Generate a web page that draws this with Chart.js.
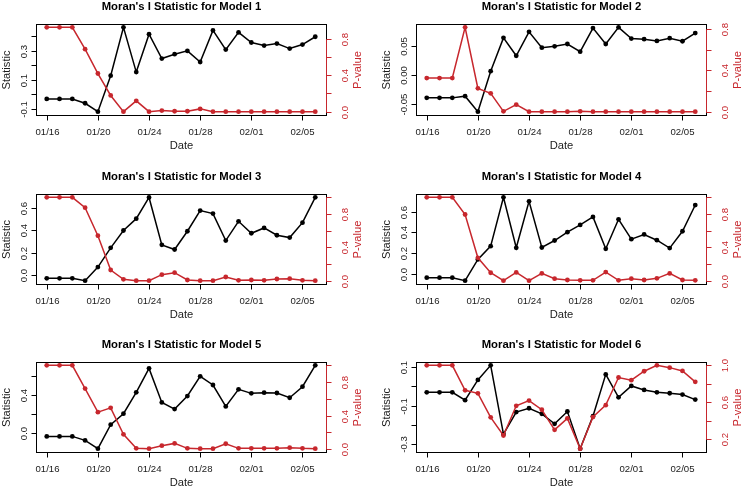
<!DOCTYPE html>
<html>
<head>
<meta charset="utf-8">
<script src="https://cdn.jsdelivr.net/npm/chart.js@4.4.0/dist/chart.umd.min.js"></script>
<style>
html, body { margin: 0; padding: 0; background: #fff; }
#wrap { position: relative; width: 742px; height: 489px; overflow: hidden; background: #fff; }
#wrap canvas { position: absolute; }
</style>
</head>
<body>
<div id="wrap"></div>
<script>
// dates on the x axis (one point per day)
const dates = ['01/16','01/17','01/18','01/19','01/20','01/21','01/22','01/23','01/24','01/25','01/26',
  '01/27','01/28','01/29','01/30','01/31','02/01','02/02','02/03','02/04','02/05','02/06'];
const dateTickLabels = ['01/16','01/20','01/24','01/28','02/01','02/05'];

// Moran's I statistic (black) and p-value (red) per model
const stat1 = [-0.033,-0.033,-0.033,-0.063,-0.121,0.128,0.463,0.153,0.416,0.247,0.277,
  0.300,0.223,0.442,0.309,0.428,0.358,0.337,0.351,0.316,0.344,0.398];
const pval1 = [0.922,0.922,0.922,0.683,0.417,0.177,0.0,0.118,0.0,0.011,0.004,
  0.004,0.030,0.0,0.0,0.0,0.0,0.0,0.0,0.0,0.0,0.0];

const stat2 = [-0.040,-0.040,-0.040,-0.037,-0.064,0.0065,0.0647,0.0335,0.0753,0.0476,0.050,
  0.054,0.0406,0.0818,0.054,0.083,0.0635,0.0624,0.0594,0.0641,0.0588,0.073];
const pval2 = [0.326,0.326,0.326,0.813,0.227,0.179,0.006,0.070,0.003,0.003,0.003,
  0.003,0.006,0.003,0.003,0.003,0.003,0.003,0.003,0.003,0.003,0.003];

const stat3 = [-0.033,-0.033,-0.033,-0.054,0.069,0.243,0.400,0.507,0.699,0.270,0.228,
  0.393,0.580,0.553,0.309,0.483,0.375,0.423,0.357,0.336,0.471,0.700];
const pval3 = [1.0,1.0,1.0,0.876,0.540,0.128,0.016,0.0,0.0,0.072,0.096,
  0.008,0.0,0.0,0.044,0.004,0.008,0.004,0.020,0.024,0.004,0.0];

const stat4 = [-0.035,-0.035,-0.035,-0.064,0.140,0.268,0.737,0.252,0.699,0.255,0.322,
  0.402,0.472,0.549,0.242,0.526,0.335,0.380,0.325,0.249,0.411,0.663];
const pval4 = [1.0,1.0,1.0,0.794,0.274,0.095,0.0,0.099,0.0,0.087,0.024,
  0.008,0.004,0.004,0.103,0.004,0.024,0.008,0.028,0.087,0.008,0.004];

const stat5 = [-0.032,-0.032,-0.032,-0.074,-0.161,0.091,0.207,0.432,0.684,0.326,0.256,
  0.393,0.600,0.509,0.284,0.463,0.421,0.428,0.425,0.375,0.491,0.716];
const pval5 = [1.0,1.0,1.0,0.722,0.440,0.492,0.175,0.008,0.004,0.040,0.067,
  0.008,0.004,0.004,0.063,0.008,0.008,0.008,0.008,0.016,0.008,0.004];

const stat6 = [-0.031,-0.031,-0.031,-0.072,0.033,0.109,-0.248,-0.134,-0.114,-0.143,-0.195,
  -0.131,-0.324,-0.155,0.062,-0.057,0.002,-0.019,-0.031,-0.036,-0.043,-0.069];
const pval6 = [1.0,1.0,1.0,0.729,0.696,0.436,0.239,0.561,0.618,0.518,0.300,
  0.425,0.096,0.439,0.568,0.868,0.839,0.936,1.0,0.975,0.939,0.821];

// axis ticks; an empty label is a tick R drew without text
const statTicks1 = [-0.1,0,0.1,0.2,0.3,0.4];
const statLabels1 = ['-0.1','','0.1','','0.3',''];
const statTicks2 = [-0.05,0,0.05];
const statLabels2 = ['-0.05','0.00','0.05'];
const statTicks3 = [0,0.2,0.4,0.6];
const statLabels3 = ['0.0','0.2','0.4','0.6'];
const statTicks5 = [0,0.2,0.4,0.6];
const statLabels5 = ['0.0','','0.4',''];
const statTicks6 = [-0.3,-0.2,-0.1,0,0.1];
const statLabels6 = ['-0.3','','-0.1','','0.1'];
const pTicks08 = [0,0.2,0.4,0.6,0.8];
const pLabels08 = ['0.0','','0.4','','0.8'];
const pTicks10 = [0,0.2,0.4,0.6,0.8,1.0];
const pLabels10 = ['0.0','','0.4','','0.8',''];
const pTicks6 = [0.2,0.4,0.6,0.8,1.0];
const pLabels6 = ['0.2','','0.6','','1.0'];

const RED = '#c7272d';
const FONT = '"Liberation Sans", Arial, Helvetica, sans-serif';

const panels = [
  {stat: stat1, pval: pval1, st: statTicks1, sl: statLabels1, pt: pTicks08, pl: pLabels08, col: 0, row: 0},
  {stat: stat2, pval: pval2, st: statTicks2, sl: statLabels2, pt: pTicks08, pl: pLabels08, col: 1, row: 0},
  {stat: stat3, pval: pval3, st: statTicks3, sl: statLabels3, pt: pTicks10, pl: pLabels10, col: 0, row: 1},
  {stat: stat4, pval: pval4, st: statTicks3, sl: statLabels3, pt: pTicks10, pl: pLabels10, col: 1, row: 1},
  {stat: stat5, pval: pval5, st: statTicks5, sl: statLabels5, pt: pTicks10, pl: pLabels10, col: 0, row: 2},
  {stat: stat6, pval: pval6, st: statTicks6, sl: statLabels6, pt: pTicks6, pl: pLabels6, col: 1, row: 2}
];

// plot box placement
const colCanvasX = [0, 371];
const boxLeft = [36, 416];
const boxWidth = 290;
const rowCanvasY = [0, 163, 326];
const boxTop = [24, 194, 362];
const boxHeight = [91, 90, 90];

// R style 4% range extension
function rRange(arr) {
  const mn = Math.min(...arr), mx = Math.max(...arr);
  const d = (mx - mn) * 0.04;
  return {min: mn - d, max: mx + d};
}

function rotText(ctx, txt, x, y) {
  ctx.save();
  ctx.translate(x, y);
  ctx.rotate(-Math.PI / 2);
  ctx.fillText(txt, 0, 0);
  ctx.restore();
}

const rAxes = {
  id: 'rAxes',
  afterDatasetsDraw(chart, args, o) {
    const ctx = chart.ctx, a = chart.chartArea;
    const sx = chart.scales.x, sy = chart.scales.y, sp = chart.scales.y2;
    const L = Math.round(a.left) + 0.5, R = Math.round(a.right) + 0.5;
    const T = Math.round(a.top) + 0.5, B = Math.round(a.bottom) + 0.5;
    const tl = 5;
    ctx.save();
    ctx.lineWidth = 1;
    ctx.strokeStyle = '#000';
    ctx.strokeRect(L, T, R - L, B - T);

    // x axis
    ctx.fillStyle = '#1a1a1a';
    ctx.textAlign = 'center';
    ctx.textBaseline = 'middle';
    ctx.font = '9.6px ' + FONT;
    const xs = dateTickLabels.map(d => Math.round(sx.getPixelForValue(dates.indexOf(d))) + 0.5);
    ctx.beginPath();
    ctx.moveTo(xs[0], B); ctx.lineTo(xs[xs.length - 1], B);
    xs.forEach(px => { ctx.moveTo(px, B); ctx.lineTo(px, B + tl); });
    ctx.stroke();
    dateTickLabels.forEach((d, i) => ctx.fillText(d, xs[i], B + 17));
    ctx.font = '11.2px ' + FONT;
    ctx.fillText('Date', (L + R) / 2, B + 30);

    // left axis
    ctx.font = '9.6px ' + FONT;
    const ys = o.st.map(v => Math.round(sy.getPixelForValue(v)) + 0.5);
    ctx.beginPath();
    ctx.moveTo(L, ys[0]); ctx.lineTo(L, ys[ys.length - 1]);
    ys.forEach(py => { ctx.moveTo(L, py); ctx.lineTo(L - tl, py); });
    ctx.stroke();
    o.sl.forEach((t, i) => { if (t) rotText(ctx, t, L - 12, ys[i]); });
    ctx.font = '11.2px ' + FONT;
    rotText(ctx, 'Statistic', L - 29.5, (T + B) / 2);

    // right axis (red)
    ctx.strokeStyle = RED;
    ctx.fillStyle = RED;
    ctx.font = '9.6px ' + FONT;
    const ps = o.pt.map(v => Math.round(sp.getPixelForValue(v)) + 0.5);
    ctx.beginPath();
    ctx.moveTo(R, ps[0]); ctx.lineTo(R, ps[ps.length - 1]);
    ps.forEach(py => { ctx.moveTo(R, py); ctx.lineTo(R + tl, py); });
    ctx.stroke();
    o.pl.forEach((t, i) => { if (t) rotText(ctx, t, R + 18.5, ps[i]); });
    ctx.font = '11.2px ' + FONT;
    rotText(ctx, 'P-value', R + 31, (T + B) / 2);

    // title
    ctx.fillStyle = '#000';
    ctx.font = 'bold 11.3px ' + FONT;
    ctx.fillText(o.title, (L + R) / 2, T - 18);
    ctx.restore();
  }
};

const wrap = document.getElementById('wrap');
panels.forEach((p, k) => {
  const cv = document.createElement('canvas');
  const cx = colCanvasX[p.col], cy = rowCanvasY[p.row];
  const cw = 371, ch = 163;
  cv.width = cw; cv.height = ch;
  cv.style.left = cx + 'px'; cv.style.top = cy + 'px';
  cv.style.width = cw + 'px'; cv.style.height = ch + 'px';
  wrap.appendChild(cv);

  const bl = boxLeft[p.col] - cx;
  const bt = boxTop[p.row] - cy;
  const xr = rRange([0, dates.length - 1]);
  const yr = rRange(p.stat);
  const pr = rRange(p.pval);

  new Chart(cv, {
    type: 'line',
    data: {
      datasets: [{
        label: 'P-value',
        data: p.pval.map((v, i) => ({x: i, y: v})),
        yAxisID: 'y2',
        borderColor: RED,
        backgroundColor: RED,
        borderWidth: 1.5,
        pointRadius: 2.4,
        pointBorderWidth: 0,
        tension: 0
      }, {
        label: 'Statistic',
        data: p.stat.map((v, i) => ({x: i, y: v})),
        yAxisID: 'y',
        borderColor: '#000',
        backgroundColor: '#000',
        borderWidth: 1.5,
        pointRadius: 2.4,
        pointBorderWidth: 0,
        tension: 0
      }]
    },
    options: {
      responsive: false,
      animation: false,
      devicePixelRatio: 1,
      events: [],
      layout: {
        padding: {left: bl, top: bt, right: cw - bl - boxWidth, bottom: ch - bt - boxHeight[p.row]}
      },
      scales: {
        x: {type: 'linear', display: false, min: xr.min, max: xr.max},
        y: {type: 'linear', display: false, min: yr.min, max: yr.max},
        y2: {type: 'linear', display: false, min: pr.min, max: pr.max, position: 'right'}
      },
      plugins: {
        legend: {display: false},
        tooltip: {enabled: false},
        rAxes: {title: "Moran's I Statistic for Model " + (k + 1), st: p.st, sl: p.sl, pt: p.pt, pl: p.pl}
      }
    },
    plugins: [rAxes]
  });
});
</script>
</body>
</html>
